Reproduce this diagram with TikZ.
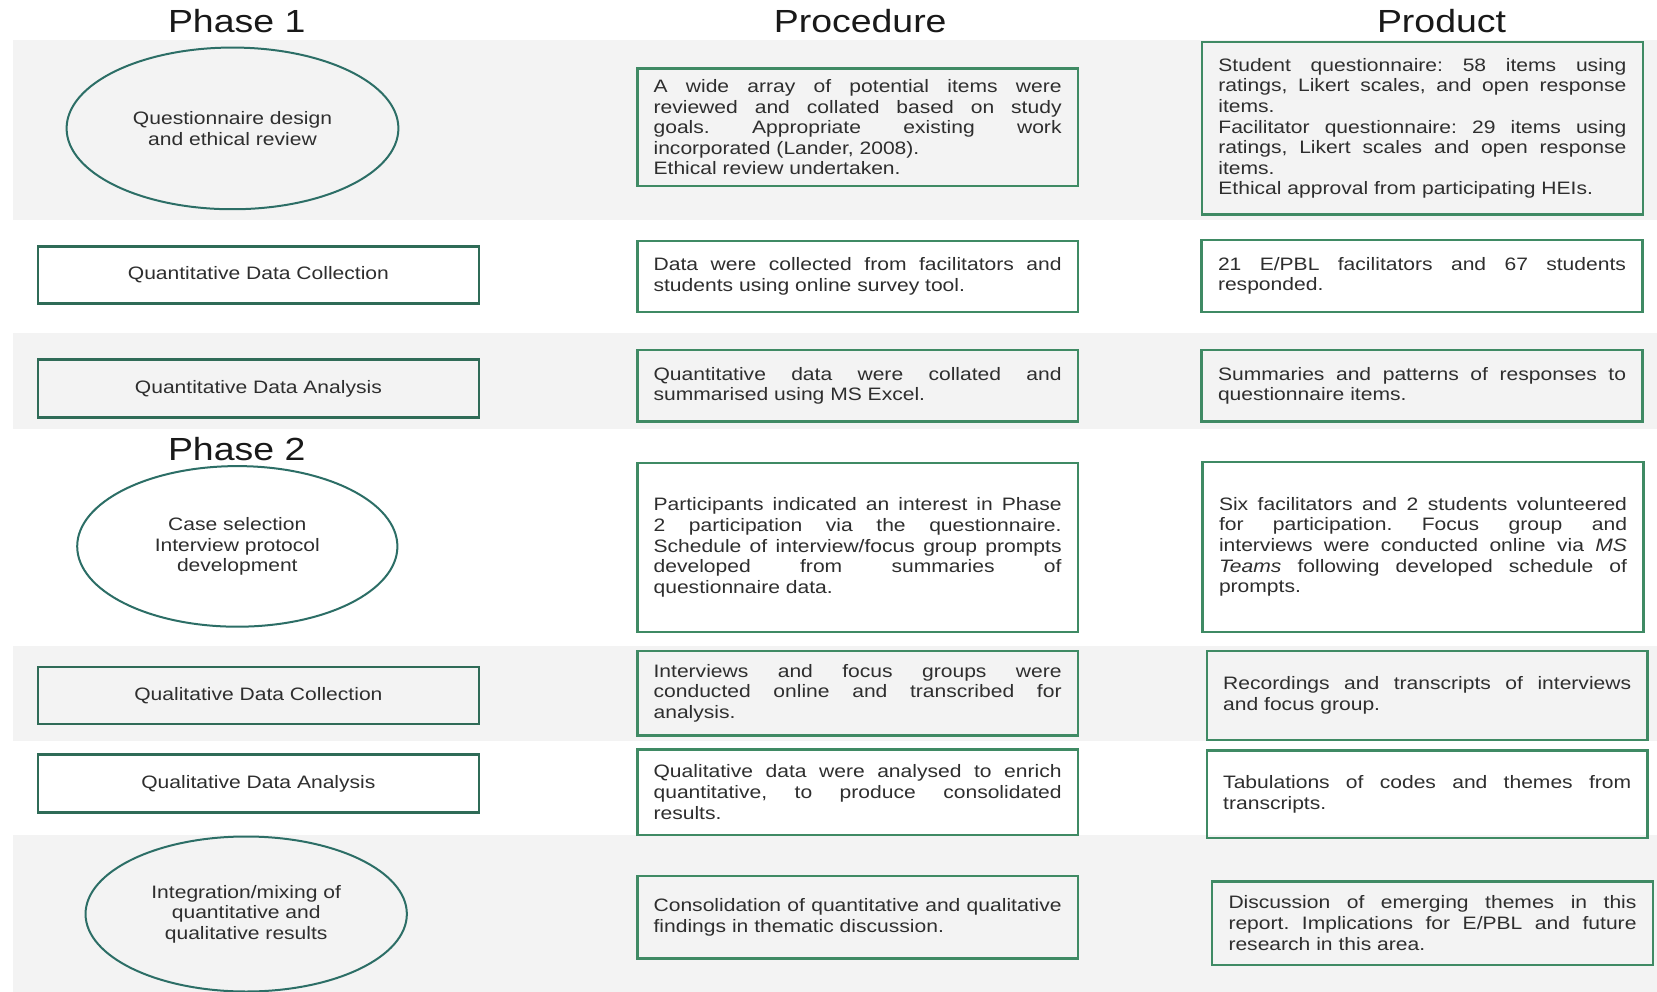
\documentclass[tikz,border=0pt]{standalone}
\usepackage{fontspec}
\setmainfont{Liberation Sans}[FakeStretch=1.17]
\usetikzlibrary{shapes.geometric}
\definecolor{bandgray}{HTML}{F3F3F3}
\definecolor{boxgreen}{HTML}{3F8A64}
\definecolor{leftgreen}{HTML}{2F6B57}
\definecolor{elteal}{HTML}{2C6E66}
\definecolor{txt}{HTML}{2E2E2E}
\setlength\parindent{0pt}
\frenchspacing
\begin{document}
\begin{tikzpicture}[x=1pt,y=-1pt,
  every node/.style={text=txt, font=\fontsize{18}{20.6}\selectfont},
  textbox/.style={draw=boxgreen, line width=2.5pt, rectangle, inner xsep=16.35pt, inner ysep=2pt,
    text width=408pt, align=justify,
    execute at begin node={\frenchspacing\tolerance=10000\hyphenpenalty=10000\exhyphenpenalty=10000}},
  stagebox/.style={draw=leftgreen, line width=2.5pt, rectangle, minimum width=440.7pt, align=center},
  stageell/.style={ellipse, draw=elteal, line width=2pt, align=center, inner sep=0pt},
  heading/.style={font=\fontsize{32}{38}\selectfont, text=black!90, anchor=base}]
\useasboundingbox (0,0) rectangle (1657,992);
\fill[white] (0,0) rectangle (1657,992);
% bands
\fill[bandgray] (12.7,40) rectangle (1657,220);
\fill[bandgray] (12.7,333) rectangle (1657,429);
\fill[bandgray] (12.7,646) rectangle (1657,741);
\fill[bandgray] (12.7,835) rectangle (1657,992);
% headings
\node[heading] (h1) at (236.7,32.8) {Phase 1};
\node[heading] (h2) at (860.2,32.8) {Procedure};
\node[heading] (h3) at (1441.5,32.8) {Product};
\node[heading] (h4) at (236.7,460.8) {Phase 2};
% left column
\node[stageell, minimum width=331.8pt, minimum height=161.7pt] (e1) at (232.5,128.4) {Questionnaire design\\and ethical review};
\node[stagebox, minimum height=57pt] (l2) at (258.4,274.8) {Quantitative Data Collection};
\node[stagebox, minimum height=58pt] (l3) at (258.4,388.4) {Quantitative Data Analysis};
\node[stageell, minimum width=320.2pt, minimum height=160.6pt] (e2) at (237.3,546.4) {Case selection\\Interview protocol\\development};
\node[stagebox, minimum height=57pt] (l5) at (258.4,695.4) {Qualitative Data Collection};
\node[stagebox, minimum height=58pt] (l6) at (258.4,783.6) {Qualitative Data Analysis};
\node[stageell, minimum width=321.3pt, minimum height=155pt] (e3) at (246.2,914) {Integration/mixing of\\quantitative and\\qualitative results};
% procedure column
\node[textbox, minimum height=117.3pt] (p1) at (857.6,127.3) {A wide array of potential items were\linebreak reviewed and collated based on study\linebreak goals. Appropriate existing work\linebreak incorporated (Lander, 2008).\par Ethical review undertaken.};
\node[textbox, minimum height=70.8pt] (p2) at (857.6,276.4) {Data were collected from facilitators and\linebreak students using online survey tool.};
\node[textbox, minimum height=71.9pt] (p3) at (857.6,385.7) {Quantitative data were collated and\linebreak summarised using MS Excel.};
\node[textbox, minimum height=169pt] (p4) at (857.6,547.4) {Participants indicated an interest in Phase\linebreak 2 participation via the questionnaire.\linebreak Schedule of interview/focus group prompts\linebreak developed from summaries of\linebreak questionnaire data.};
\node[textbox, minimum height=84.5pt] (p5) at (857.6,693.2) {Interviews and focus groups were\linebreak conducted online and transcribed for\linebreak analysis.};
\node[textbox, minimum height=85.6pt] (p6) at (857.6,792.1) {Qualitative data were analysed to enrich\linebreak quantitative, to produce consolidated\linebreak results.};
\node[textbox, minimum height=82.4pt] (p7) at (857.6,917.3) {Consolidation of quantitative and qualitative\linebreak findings in thematic discussion.};
% product column
\node[textbox, minimum height=172.3pt] (r1) at (1422.4,128.4) {Student questionnaire: 58 items using\linebreak ratings, Likert scales, and open response\linebreak items.\par Facilitator questionnaire: 29 items using\linebreak ratings, Likert scales and open response\linebreak items.\par Ethical approval from participating HEIs.};
\node[textbox, minimum height=71.9pt] (r2) at (1422,275.9) {21 E/PBL facilitators and 67 students\linebreak responded.};
\node[textbox, minimum height=71.9pt] (r3) at (1422,385.7) {Summaries and patterns of responses to\linebreak questionnaire items.};
\node[textbox, minimum height=170pt] (r4) at (1423,546.9) {Six facilitators and 2 students volunteered\linebreak for participation. Focus group and\linebreak interviews were conducted online via \textit{MS}\linebreak \textit{Teams} following developed schedule of\linebreak prompts.};
\node[textbox, minimum height=88.8pt] (r5) at (1427.2,695.4) {Recordings and transcripts of interviews\linebreak and focus group.};
\node[textbox, minimum height=87.7pt] (r6) at (1427.2,794.2) {Tabulations of codes and themes from\linebreak transcripts.};
\node[textbox, minimum height=83.5pt] (r7) at (1432.5,923.1) {Discussion of emerging themes in this\linebreak report. Implications for E/PBL and future\linebreak research in this area.};
\end{tikzpicture}
\end{document}
